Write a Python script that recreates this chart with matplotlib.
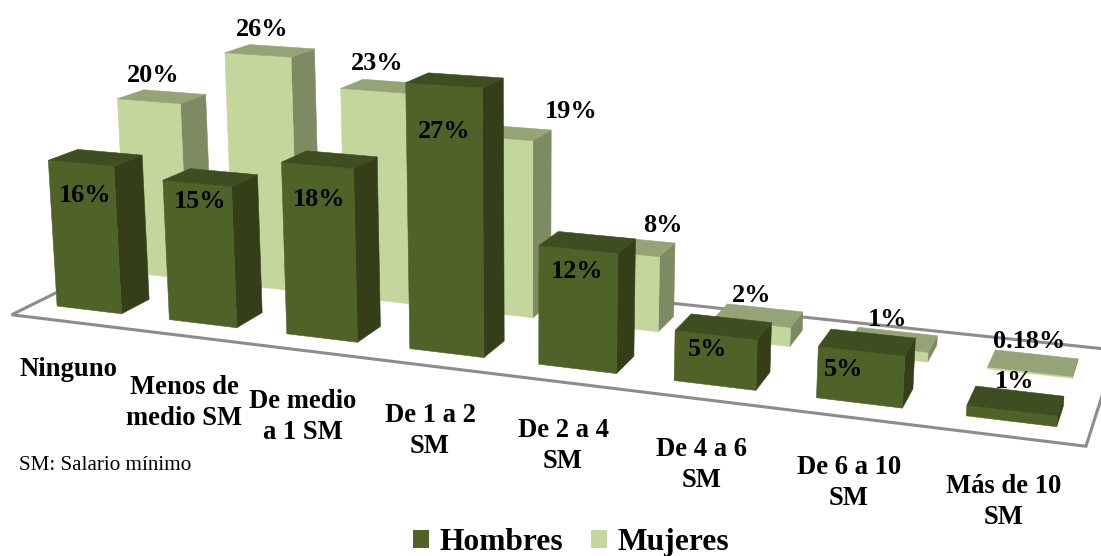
import numpy as np
import matplotlib
matplotlib.use("Agg")
import matplotlib.pyplot as plt
from matplotlib.patches import Patch, Polygon

plt.rcParams['font.family'] = ['Liberation Serif', 'DejaVu Serif']

# Income brackets and percentage of each group
categories = ["Ninguno", "Menos de\nmedio SM", "De medio\na 1 SM", "De 1 a 2\nSM",
              "De 2 a 4\nSM", "De 4 a 6\nSM", "De 6 a 10\nSM", "Más de 10\nSM"]
hombres = [16, 15, 18, 27, 12, 5, 5, 1]
mujeres = [20, 26, 23, 19, 8, 2, 1, 0.18]
hombres_labels = ["16%", "15%", "18%", "27%", "12%", "5%", "5%", "1%"]
mujeres_labels = ["20%", "26%", "23%", "19%", "8%", "2%", "1%", "0.18%"]

# Perspective camera: (category, depth, percent) -> canvas pixels
CAMERA = np.array([
    [109.20983421342098, 30.897070313566715, -0.6072281590139005, 89.14289261950108],
    [6.531464310047154, -7.17940699351874, -9.350741733905377, 309.90196567968593],
    [-0.02225410630871726, 0.023948086192485264, -0.001143911840316773, 1.0],
])
BAR_WIDTH = 0.58
BAR_DEPTH = 1.0
ROW_OFFSET = 2.5
FLOOR = [(-0.49, -0.78), (7.5, -0.72), (7.53, 4.34), (-0.52, 4.26)]

DARK = {"front": "#4f6228", "side": "#343f1a", "top": "#3f4e20"}
LIGHT = {"front": "#c3d69b", "side": "#7e8b62", "top": "#95a377"}

# Label placement on the canvas, in pixels
HOMBRES_LABEL_XY = [(85, 195), (200, 202), (319, 199), (444, 131), (577, 272), (708, 350), (844, 370), (1015, 381)]
MUJERES_LABEL_XY = [(153, 76), (262, 29), (377, 64), (571, 112), (663, 225), (752, 296), (888, 320), (1029, 342)]
CATEGORY_XY = [(68, 369), (184, 403), (303, 417), (430, 431), (563, 446), (702, 465), (849, 483), (1004, 502)]


def project(points):
    pts = np.asarray(points, float)
    h = CAMERA @ np.c_[pts, np.ones(len(pts))].T
    return (h[:2] / h[2]).T


def draw_box(ax, index, row, value, palette, zorder):
    x0, x1 = index - BAR_WIDTH / 2, index + BAR_WIDTH / 2
    y0, y1 = row * ROW_OFFSET, row * ROW_OFFSET + BAR_DEPTH
    faces = {
        "side": [(x1, y0, 0), (x1, y1, 0), (x1, y1, value), (x1, y0, value)],
        "front": [(x0, y0, 0), (x1, y0, 0), (x1, y0, value), (x0, y0, value)],
        "top": [(x0, y0, value), (x1, y0, value), (x1, y1, value), (x0, y1, value)],
    }
    for name, corners in faces.items():
        ax.add_patch(Polygon(project(corners), closed=True, facecolor=palette[name],
                             edgecolor=palette[name], linewidth=0.4, zorder=zorder))


fig = plt.figure(figsize=(11.01, 5.56), dpi=100, facecolor="white")
ax = fig.add_axes([0, 0, 1, 1])
ax.set_xlim(0, 1101)
ax.set_ylim(556, 0)
ax.set_axis_off()

ax.add_patch(Polygon(project([(x, y, 0) for x, y in FLOOR]), closed=True, facecolor="white",
                     edgecolor="#8c8c8c", linewidth=2.2, zorder=1))

for i, v in enumerate(mujeres):
    draw_box(ax, i, 1, v, LIGHT, 2 + i * 0.01)
for i, v in enumerate(hombres):
    draw_box(ax, i, 0, v, DARK, 3 + i * 0.01)

for labels, places in ((hombres_labels, HOMBRES_LABEL_XY), (mujeres_labels, MUJERES_LABEL_XY)):
    for text, (x, y) in zip(labels, places):
        ax.text(x, y, text, ha="center", va="center", fontsize=18.9, fontweight="bold",
                color="black", zorder=5)

for text, (x, y) in zip(categories, CATEGORY_XY):
    ax.text(x, y, text, ha="center", va="center", fontsize=19.2, fontweight="bold",
            color="black", linespacing=1.3, zorder=5)

ax.text(19, 466, "SM: Salario mínimo", ha="left", va="center", fontsize=15.25, color="black", zorder=5)

handles = [Patch(facecolor=DARK["front"], label="Hombres"), Patch(facecolor=LIGHT["front"], label="Mujeres")]
ax.legend(handles=handles, loc="center", bbox_to_anchor=(571, 542.5), bbox_transform=ax.transData,
          ncol=2, frameon=False, borderpad=0, borderaxespad=0, handlelength=0.5, handleheight=0.5,
          handletextpad=0.32, columnspacing=0.9,
          prop={"size": 22.7, "weight": "bold", "family": "Liberation Serif"})

fig.savefig("out.png", dpi=100)
